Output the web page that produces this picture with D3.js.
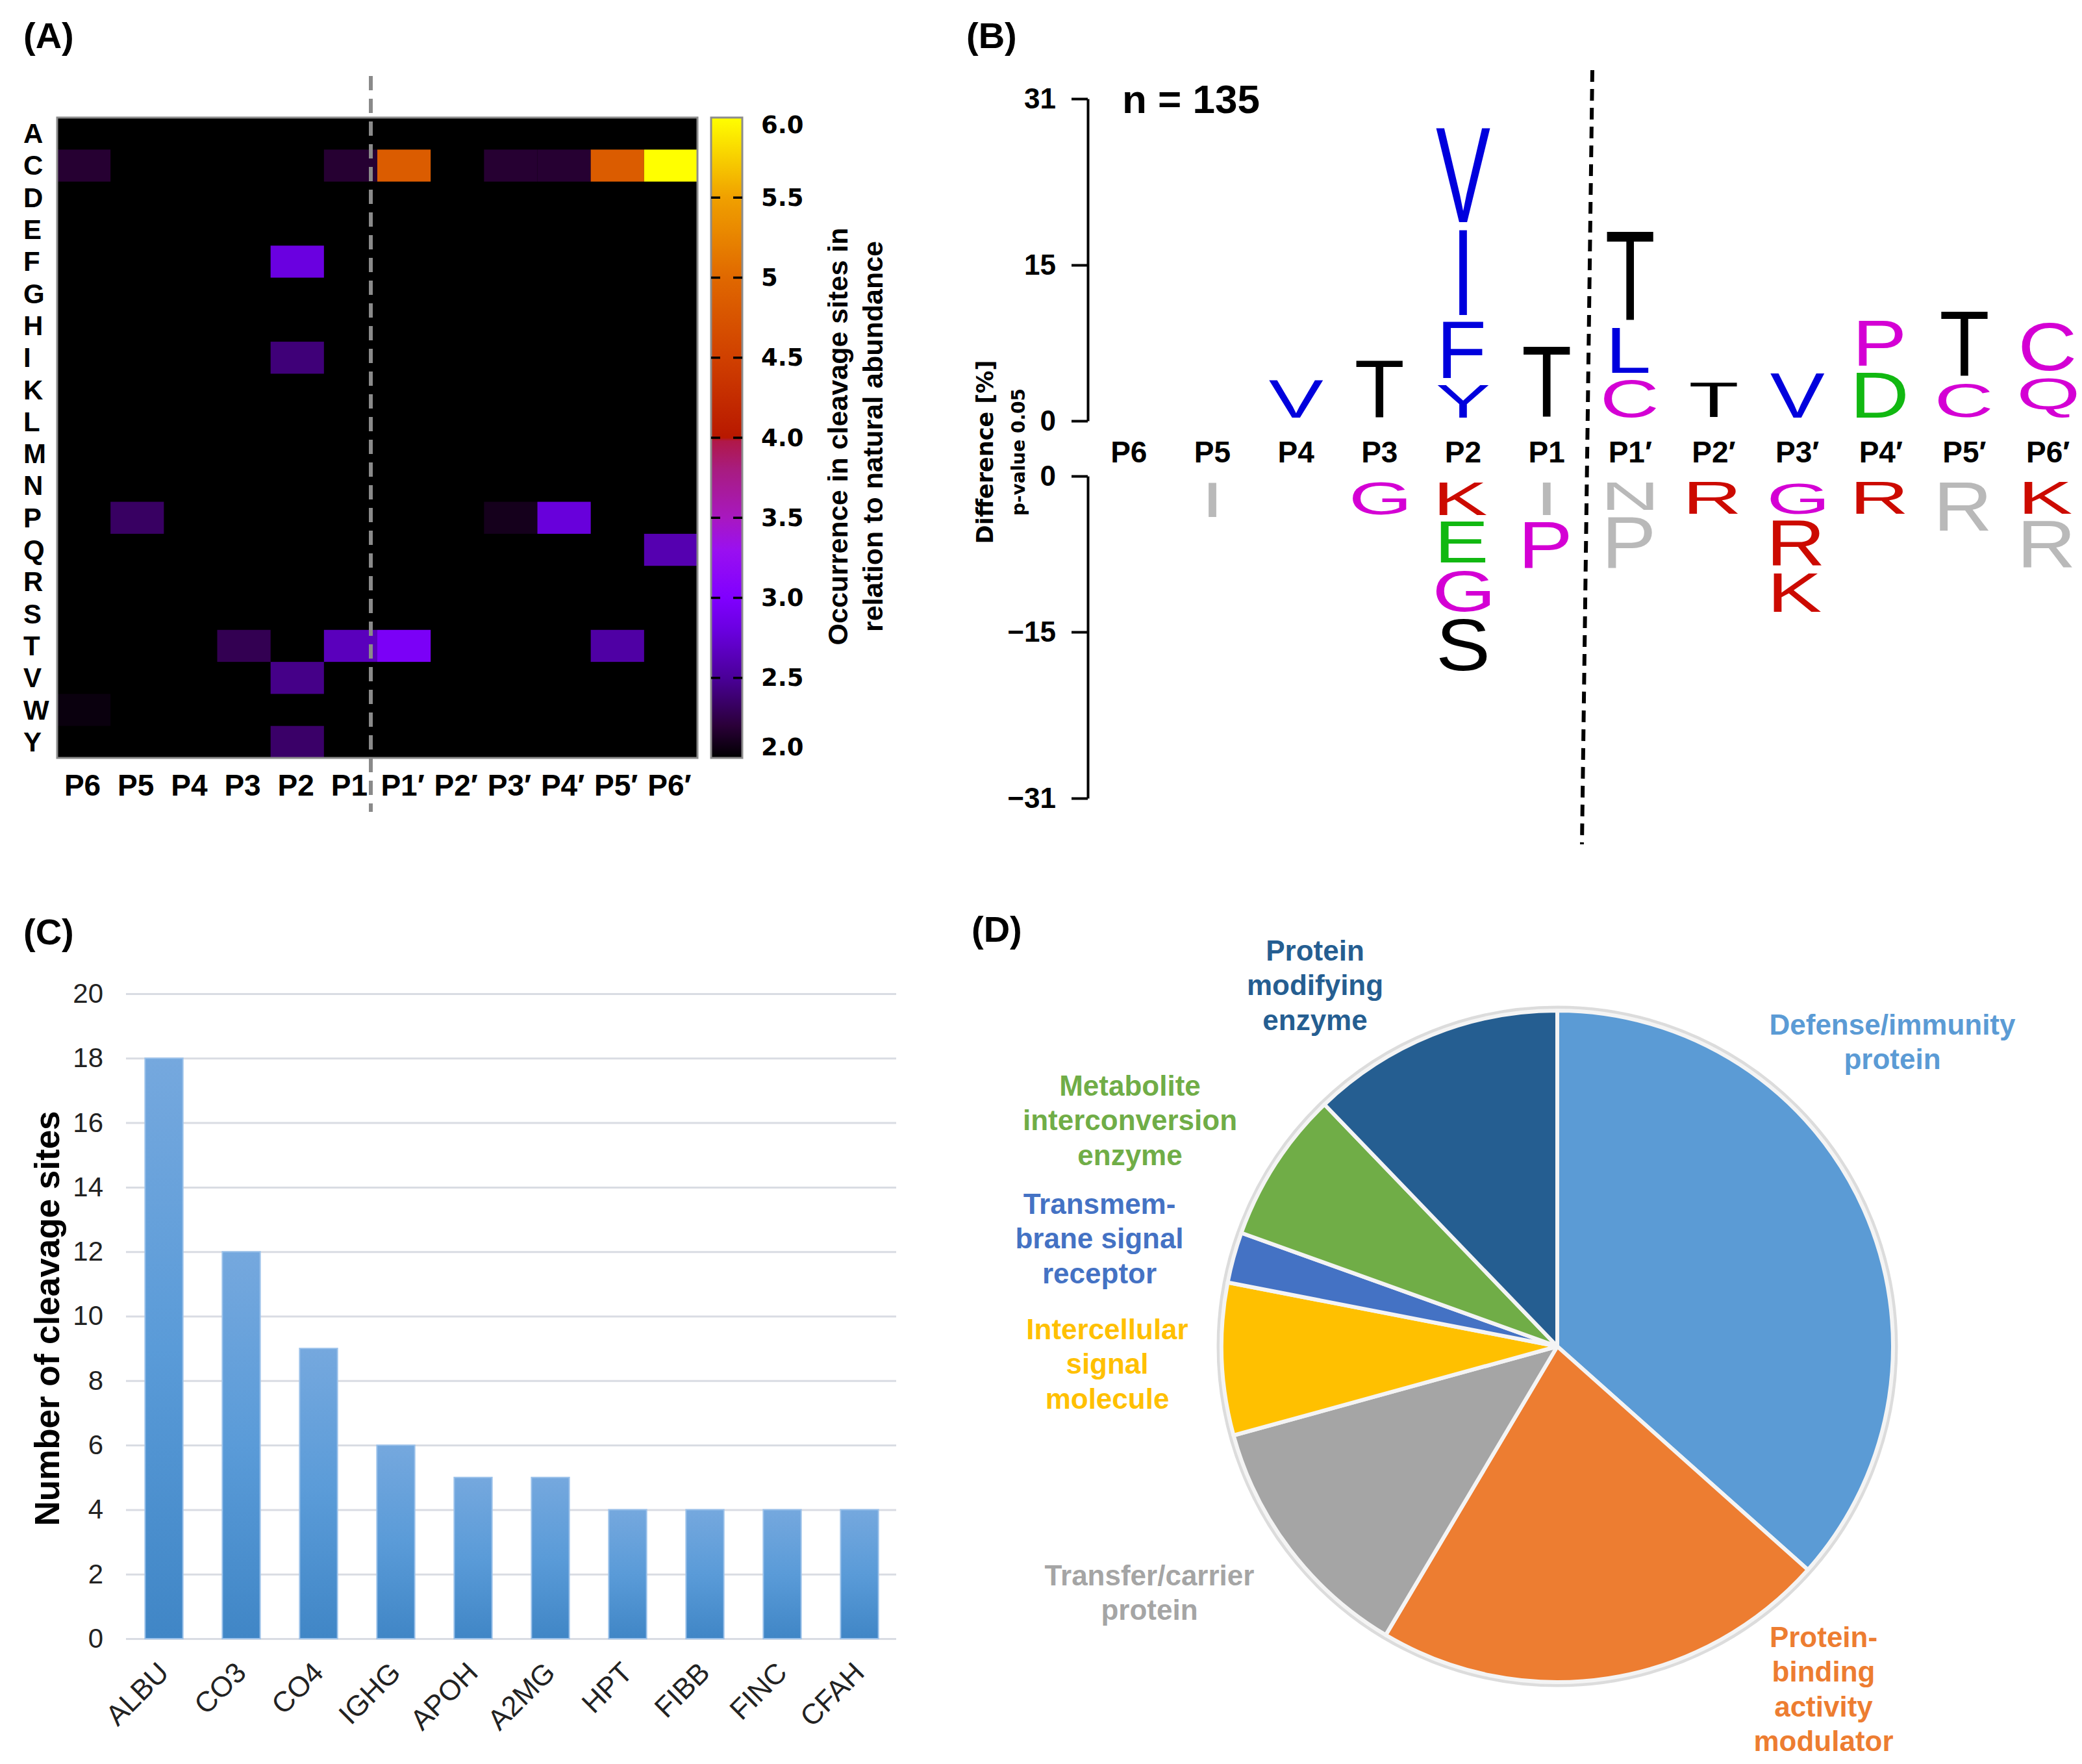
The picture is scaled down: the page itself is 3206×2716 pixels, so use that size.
<!DOCTYPE html>
<html lang="en">
<head>
<meta charset="utf-8">
<title>Cleavage site analysis</title>
<script src="https://d3js.org/d3.v7.min.js"></script>
<style>
  body { margin: 0; background: #fff; }
  svg { display: block; }
</style>
</head>
<body>
<script>
// ---------------- data ----------------
// shared P6..P6' positions (heatmap columns and logo positions)
var sitePositions = ["P6", "P5", "P4", "P3", "P2", "P1", "P1′", "P2′", "P3′", "P4′", "P5′", "P6′"];

// (A) heatmap
var residues = ["A", "C", "D", "E", "F", "G", "H", "I", "K", "L", "M", "N", "P", "Q", "R", "S", "T", "V", "W", "Y"];
// [residue, position, occurrence relative to natural abundance]; cells not listed are below 2.0
var heatCells = [
    ["C", "P6", 2.18], ["C", "P1", 2.18], ["C", "P1′", 4.85], ["C", "P3′", 2.18],
    ["C", "P4′", 2.18], ["C", "P5′", 4.85], ["C", "P6′", 6.0],
    ["F", "P2", 2.8],
    ["I", "P2", 2.4],
    ["P", "P5", 2.33], ["P", "P3′", 2.1], ["P", "P4′", 2.78],
    ["Q", "P6′", 2.6],
    ["T", "P3", 2.28], ["T", "P1", 2.65], ["T", "P1′", 2.95], ["T", "P5′", 2.55],
    ["V", "P2", 2.45],
    ["W", "P6", 2.05],
    ["Y", "P2", 2.35]
];
var colorbarTicks = [2.0, 2.5, 3.0, 3.5, 4.0, 4.5, 5, 5.5, 6.0];
var colorbarTickLabels = ["2.0", "2.5", "3.0", "3.5", "4.0", "4.5", "5", "5.5", "6.0"];

// (B) iceLogo, difference [%] per position; enriched from bottom up, depleted from top down
// third entry = 1 marks the grey (faded) letters
var logoTicksUp = [0, 15, 31];
var logoTicksDown = [0, -15, -31];
var sampleSize = 135;
var enriched = [
    [],
    [],
    [["V", 4.3]],
    [["T", 6.2]],
    [["Y", 3.8], ["F", 6.1], ["I", 8.9], ["V", 9.7]],
    [["T", 7.5]],
    [["C", 4.3], ["L", 5.0], ["T", 9.3]],
    [["T", 4.0]],
    [["V", 4.9]],
    [["D", 5.0], ["P", 5.0]],
    [["C", 3.9], ["T", 6.9]],
    [["Q", 4.5], ["C", 5.3]]
];
var depleted = [
    [],
    [["I", 4.0, 1]],
    [],
    [["G", 3.8]],
    [["K", 3.8], ["E", 4.6], ["G", 4.7], ["S", 5.7]],
    [["I", 3.8, 1], ["P", 5.1]],
    [["N", 3.3, 1], ["P", 5.6, 1]],
    [["R", 3.7]],
    [["G", 3.7], ["R", 5.0], ["K", 4.4]],
    [["R", 3.7]],
    [["R", 5.3, 1]],
    [["K", 3.7], ["R", 5.2, 1]]
];

// (C) cleavage sites per protein
var proteins = ["ALBU", "CO3", "CO4", "IGHG", "APOH", "A2MG", "HPT", "FIBB", "FINC", "CFAH"];
var cleavageSites = [18, 12, 9, 6, 5, 5, 4, 4, 4, 4];
var barTicks = [0, 2, 4, 6, 8, 10, 12, 14, 16, 18, 20];

// (D) protein classes, clockwise from 12 o'clock
var proteinClasses = ["Defense/immunity protein", "Protein-binding activity modulator",
    "Transfer/carrier protein", "Intercellular signal molecule",
    "Transmembrane signal receptor", "Metabolite interconversion enzyme",
    "Protein modifying enzyme"];
var classCounts = [15, 9, 5, 3, 1, 3, 5];
var classLabelLines = [
    ["Defense/immunity", "protein"],
    ["Protein-", "binding", "activity", "modulator"],
    ["Transfer/carrier", "protein"],
    ["Intercellular", "signal", "molecule"],
    ["Transmem-", "brane signal", "receptor"],
    ["Metabolite", "interconversion", "enzyme"],
    ["Protein", "modifying", "enzyme"]
];

// ---------------- styles ----------------
var SANS = "'Liberation Sans', Arial, Helvetica, sans-serif";
var DEJA = "'DejaVu Sans', Verdana, sans-serif";
var classColors = ["#5b9bd5", "#ed7d31", "#a5a5a5", "#ffc000", "#4472c4", "#70ad47", "#255e91"];
var aaColor = {
    V: "#0000dd", I: "#0000dd", F: "#0000dd", Y: "#0000dd", L: "#0000dd",
    T: "#000000", S: "#000000",
    G: "#d400d4", P: "#d400d4", C: "#d400d4", Q: "#d400d4", N: "#d400d4",
    D: "#11b811", E: "#11b811",
    K: "#cc0a00", R: "#cc0a00"
};
var greyLetter = "#b9b9b9";

var W = 3206, H = 2716;
var svg = d3.select("body").append("svg")
    .attr("width", W).attr("height", H)
    .attr("viewBox", "0 0 " + W + " " + H);
var defs = svg.append("defs");

function panelLabel(txt, x, y) {
    svg.append("text").attr("x", x).attr("y", y)
        .attr("font-family", SANS).attr("font-weight", "bold")
        .attr("font-size", 56).text(txt);
}

// =============== (A) heatmap ===============
panelLabel("(A)", 36, 74);

var hm = {left: 88, right: 1074, top: 181, bottom: 1167};
var xA = d3.scaleBand().domain(sitePositions).range([hm.left, hm.right]);
var yA = d3.scaleBand().domain(residues).range([hm.top, hm.bottom]);

var heatColor = d3.scaleLinear()
    .domain([2.0, 2.2, 2.5, 2.8, 3.0, 3.3, 3.5, 3.8, 3.98, 4.0, 4.5, 5.0, 5.5, 6.0])
    .range(["#000000", "#2a0038", "#4a0098", "#6a00e0", "#8000ff", "#9a10f0", "#a818c0",
            "#a81c80", "#b01848", "#b81800", "#d04000", "#e06800", "#f0a000", "#ffff00"])
    .clamp(true);

var gA = svg.append("g");
gA.append("rect")
    .attr("x", hm.left).attr("y", hm.top)
    .attr("width", hm.right - hm.left).attr("height", hm.bottom - hm.top)
    .attr("fill", heatColor(2.0));

gA.selectAll("rect.cell")
    .data(heatCells)
    .enter().append("rect")
    .attr("class", "cell")
    .attr("x", function(d) { return xA(d[1]); })
    .attr("y", function(d) { return yA(d[0]); })
    .attr("width", xA.bandwidth())
    .attr("height", yA.bandwidth())
    .attr("fill", function(d) { return heatColor(d[2]); });

gA.append("rect")
    .attr("x", hm.left).attr("y", hm.top)
    .attr("width", hm.right - hm.left).attr("height", hm.bottom - hm.top)
    .attr("fill", "none").attr("stroke", "#8c8c8c").attr("stroke-width", 3);

// row labels
gA.selectAll("text.row")
    .data(residues)
    .enter().append("text")
    .attr("class", "row")
    .attr("x", 36)
    .attr("y", function(d) { return yA(d) + yA.bandwidth() / 2; })
    .attr("dominant-baseline", "central")
    .attr("font-family", SANS).attr("font-weight", "bold").attr("font-size", 42)
    .text(function(d) { return d; });

// column labels
gA.selectAll("text.col")
    .data(sitePositions)
    .enter().append("text")
    .attr("class", "col")
    .attr("x", function(d) { return xA(d) + xA.bandwidth() / 2 - 2; })
    .attr("y", 1225)
    .attr("text-anchor", "middle")
    .attr("font-family", SANS).attr("font-weight", "bold").attr("font-size", 46)
    .text(function(d) { return d; });

// scissile bond
var cutA = xA("P1′") - 10;
gA.append("line")
    .attr("x1", cutA).attr("x2", cutA).attr("y1", 117).attr("y2", 1250)
    .attr("stroke", "#8a8a8a").attr("stroke-width", 6)
    .attr("stroke-dasharray", "22,13");

// colorbar
var cb = {left: 1095, right: 1143};
var yCb = d3.scaleLinear().domain([2.0, 6.0]).range([hm.bottom, hm.top]);
var grad = defs.append("linearGradient").attr("id", "cbGrad")
    .attr("x1", 0).attr("y1", 1).attr("x2", 0).attr("y2", 0);
grad.selectAll("stop")
    .data(heatColor.domain())
    .enter().append("stop")
    .attr("offset", function(d) { return (d - 2) / 4; })
    .attr("stop-color", function(d) { return heatColor(d); });

gA.append("rect")
    .attr("x", cb.left).attr("y", hm.top)
    .attr("width", cb.right - cb.left).attr("height", hm.bottom - hm.top)
    .attr("fill", "url(#cbGrad)")
    .attr("stroke", "#8c8c8c").attr("stroke-width", 3);

gA.selectAll("g.cbtick")
    .data(colorbarTicks.slice(1, -1))
    .enter().append("g").attr("class", "cbtick")
    .each(function(d) {
        var g = d3.select(this), y = yCb(d);
        g.append("line").attr("x1", cb.left).attr("x2", cb.left + 14)
            .attr("y1", y).attr("y2", y).attr("stroke", "#000").attr("stroke-width", 3.5);
        g.append("line").attr("x1", cb.right - 14).attr("x2", cb.right)
            .attr("y1", y).attr("y2", y).attr("stroke", "#000").attr("stroke-width", 3.5);
    });

gA.selectAll("text.cblab")
    .data(colorbarTicks)
    .enter().append("text").attr("class", "cblab")
    .attr("x", 1172)
    .attr("y", function(d) { return Math.max(hm.top + 11, Math.min(hm.bottom - 17, yCb(d))); })
    .attr("dominant-baseline", "central")
    .attr("font-family", DEJA).attr("font-weight", "bold").attr("font-size", 37)
    .text(function(d, i) { return colorbarTickLabels[i]; });

var cbTitle = ["Occurrence in cleavage sites in", "relation to natural abundance"];
gA.selectAll("text.cbtitle")
    .data(cbTitle)
    .enter().append("text").attr("class", "cbtitle")
    .attr("transform", function(d, i) { return "translate(" + (1290 + i * 54) + ",672) rotate(-90)"; })
    .attr("text-anchor", "middle").attr("dominant-baseline", "central")
    .attr("font-family", SANS).attr("font-weight", "bold").attr("font-size", 43)
    .text(function(d) { return d; });

// =============== (B) iceLogo ===============
panelLabel("(B)", 1488, 74);

var axisB = 1675;
var yUp = d3.scaleLinear().domain([0, 31]).range([648, 152]);
var yDn = d3.scaleLinear().domain([0, -31]).range([733, 1229]);
var xB = d3.scaleBand().domain(sitePositions).range([1674, 3218]);
var gB = svg.append("g");

function styleAxis(g) {
    g.selectAll("path.domain").attr("stroke", "#000").attr("stroke-width", 4);
    g.selectAll(".tick line").attr("stroke", "#000").attr("stroke-width", 4);
    g.selectAll(".tick text").attr("font-family", SANS).attr("font-weight", "bold")
        .attr("font-size", 44).attr("fill", "#000");
}
gB.append("g").attr("transform", "translate(" + axisB + ",0)")
    .call(d3.axisLeft(yUp).tickValues(logoTicksUp).tickSize(25).tickSizeOuter(0)
        .tickPadding(24).tickFormat(d3.format("d")))
    .call(styleAxis);
gB.append("g").attr("transform", "translate(" + axisB + ",0)")
    .call(d3.axisLeft(yDn).tickValues(logoTicksDown).tickSize(25).tickSizeOuter(0)
        .tickPadding(24).tickFormat(function(d) { return d < 0 ? "\u2212" + (-d) : d; }))
    .call(styleAxis);

gB.append("text")
    .attr("transform", "translate(1517,696) rotate(-90)")
    .attr("text-anchor", "middle").attr("dominant-baseline", "central")
    .attr("font-family", DEJA).attr("font-weight", "bold").attr("font-size", 35)
    .text("Difference [%]");
gB.append("text")
    .attr("transform", "translate(1568,696) rotate(-90)")
    .attr("text-anchor", "middle").attr("dominant-baseline", "central")
    .attr("font-family", DEJA).attr("font-weight", "bold").attr("font-size", 28)
    .text("p-value 0.05");

gB.append("text").attr("x", 1728).attr("y", 174)
    .attr("font-family", SANS).attr("font-weight", "bold").attr("font-size", 62)
    .text("n = " + sampleSize);

gB.selectAll("text.pos")
    .data(sitePositions)
    .enter().append("text").attr("class", "pos")
    .attr("x", function(d) { return xB(d) + xB.bandwidth() / 2; })
    .attr("y", 712)
    .attr("text-anchor", "middle")
    .attr("font-family", SANS).attr("font-weight", "bold").attr("font-size", 46)
    .text(function(d) { return d; });

var cutB = xB("P1′");
gB.append("line")
    .attr("x1", cutB + 6).attr("x2", cutB - 10).attr("y1", 108).attr("y2", 1300)
    .attr("stroke", "#000").attr("stroke-width", 6)
    .attr("stroke-dasharray", "18,11");

// letters: vertically stretched glyphs fitted to their ink box
var measureCtx = document.createElement("canvas").getContext("2d");
var GLYPH_FS = 126;
measureCtx.font = GLYPH_FS + "px 'Liberation Sans'";
function glyph(g, ch, cx, yTop, yBottom, fill) {
    var m = measureCtx.measureText(ch);
    var asc = m.actualBoundingBoxAscent, desc = m.actualBoundingBoxDescent;
    var sy = (yBottom - yTop) / (asc + desc);
    var shift = (m.actualBoundingBoxRight - m.actualBoundingBoxLeft) / 2;
    g.append("text")
        .attr("transform", "translate(" + (cx - shift) + "," + (yTop + sy * asc) + ") scale(1," + sy + ")")
        .attr("font-family", SANS).attr("font-size", GLYPH_FS)
        .attr("fill", fill)
        .text(ch);
}

var gLetters = gB.append("g");
sitePositions.forEach(function(p, i) {
    var cx = xB(p) + xB.bandwidth() / 2;
    var s = 0;
    enriched[i].forEach(function(e) {
        var bottom = yUp(s) - 5, top = yUp(s + e[1]) + 6;
        glyph(gLetters, e[0], cx, top, bottom, e[2] ? greyLetter : aaColor[e[0]]);
        s += e[1];
    });
    s = 0;
    depleted[i].forEach(function(e) {
        var top = yDn(-s) + 10, bottom = yDn(-(s + e[1])) - 1;
        glyph(gLetters, e[0], cx, top, bottom, e[2] ? greyLetter : aaColor[e[0]]);
        s += e[1];
    });
});

// =============== (C) bar chart ===============
panelLabel("(C)", 36, 1454);

var xC = d3.scaleBand().domain(proteins).range([193, 1383])
    .paddingInner(0.51).paddingOuter(0.255);
var yC = d3.scaleLinear().domain([0, 20]).range([2523, 1530]);
var gC = svg.append("g");

var gridAxis = gC.append("g").attr("transform", "translate(194,0)")
    .call(d3.axisLeft(yC).tickValues(barTicks).tickSize(-(1380 - 194)).tickPadding(35));
gridAxis.select("path.domain").remove();
gridAxis.selectAll(".tick line").attr("stroke", "#d9dce3").attr("stroke-width", 3);
gridAxis.selectAll(".tick text").attr("font-family", SANS).attr("font-size", 42).attr("fill", "#222");

var barGrad = defs.append("linearGradient").attr("id", "barGrad")
    .attr("x1", 0).attr("y1", 0).attr("x2", 0).attr("y2", 1);
barGrad.append("stop").attr("offset", 0).attr("stop-color", "#75a8de");
barGrad.append("stop").attr("offset", 0.5).attr("stop-color", "#5a9bd8");
barGrad.append("stop").attr("offset", 1).attr("stop-color", "#4086c6");

gC.selectAll("rect.bar")
    .data(proteins)
    .enter().append("rect").attr("class", "bar")
    .attr("x", function(d) { return xC(d); })
    .attr("y", function(d, i) { return yC(cleavageSites[i]); })
    .attr("width", xC.bandwidth())
    .attr("height", function(d, i) { return yC(0) - yC(cleavageSites[i]); })
    .attr("fill", "url(#barGrad)")
    .attr("stroke", "#9cc2ea").attr("stroke-width", 2);

gC.selectAll("text.xlab")
    .data(proteins)
    .enter().append("text").attr("class", "xlab")
    .attr("transform", function(d) {
        return "translate(" + (xC(d) + xC.bandwidth() / 2 + 10) + "," + (yC(0) + 55) + ") rotate(-45)";
    })
    .attr("text-anchor", "end")
    .attr("font-family", SANS).attr("font-size", 44).attr("fill", "#222")
    .text(function(d) { return d; });

gC.append("text")
    .attr("transform", "translate(72,2030) rotate(-90)")
    .attr("text-anchor", "middle").attr("dominant-baseline", "central")
    .attr("font-family", SANS).attr("font-weight", "bold").attr("font-size", 53)
    .text("Number of cleavage sites");

// =============== (D) pie chart ===============
panelLabel("(D)", 1496, 1450);

var pie = {cx: 2398, cy: 2073, r: 517};
var gD = svg.append("g").attr("transform", "translate(" + pie.cx + "," + pie.cy + ")");
var arcs = d3.pie().sort(null).value(function(d) { return d; })(classCounts);
var arc = d3.arc().innerRadius(0).outerRadius(pie.r);

gD.append("circle").attr("r", pie.r + 4)
    .attr("fill", "none").attr("stroke", "#dcdcdc").attr("stroke-width", 7);
gD.selectAll("path.slice")
    .data(arcs)
    .enter().append("path").attr("class", "slice")
    .attr("d", arc)
    .attr("fill", function(d, i) { return classColors[i]; })
    .attr("stroke", "#f4f4f4").attr("stroke-width", 6)
    .attr("stroke-linejoin", "round");

// label anchors relative to the pie centre (first line centre)
var labelAnchor = [[516, -496], [410, 447], [-628, 352], [-693, -27], [-705, -220], [-658, -402], [-373, -610]];
gD.selectAll("text.plab")
    .data(proteinClasses)
    .enter().append("text").attr("class", "plab")
    .attr("x", function(d, i) { return labelAnchor[i][0]; })
    .attr("y", function(d, i) { return labelAnchor[i][1]; })
    .attr("text-anchor", "middle")
    .attr("font-family", SANS).attr("font-weight", "bold").attr("font-size", 44)
    .attr("fill", function(d, i) { return classColors[i]; })
    .each(function(d, i) {
        var t = d3.select(this);
        classLabelLines[i].forEach(function(line, k) {
            t.append("tspan")
                .attr("x", labelAnchor[i][0])
                .attr("y", labelAnchor[i][1] + k * 53.5)
                .attr("dominant-baseline", "central")
                .text(line);
        });
    });
</script>
</body>
</html>
